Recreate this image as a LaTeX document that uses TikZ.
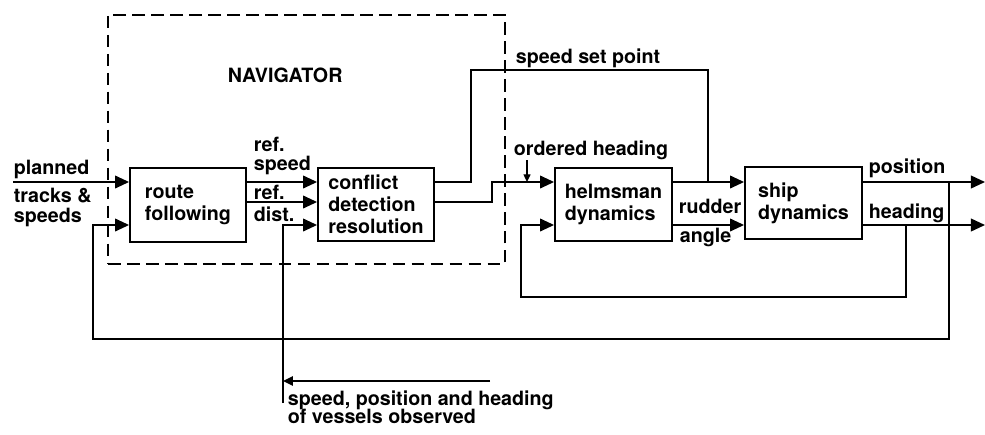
\documentclass[tikz,border=0pt]{standalone}
\usepackage{fontspec}
\setmainfont{TeX Gyre Heros}
\usetikzlibrary{arrows.meta, calc, positioning}

\begin{document}
\begin{tikzpicture}[x=0.025cm, y=-0.025cm, line width=1.3pt,
    block/.style={draw, rectangle, minimum width=2.9cm, minimum height=1.83cm, align=left, font=\bfseries\fontsize{14}{15.5}\selectfont},
    lbl/.style={inner sep=0pt, anchor=base west, align=left, font=\bfseries\fontsize{14}{15.5}\selectfont},
    arr/.style={-{Triangle[length=10pt,width=9pt]}}]
    \useasboundingbox (0,0) rectangle (985,434);

    % signal levels
    \coordinate (upper) at (0,182);
    \coordinate (middle) at (0,202);
    \coordinate (lower) at (0,225);

    % navigator
    \node[draw, dash pattern=on 9pt off 4.5pt, minimum width=9.925cm, minimum height=6.225cm] (nav) at (306.5,139.5) {};
    \node[lbl] (navlabel) at (227,82) {NAVIGATOR};

    % blocks
    \node[block] (route) at (188,205) {route\\following};
    \node[block] (conflict) at (376,204.5) {conflict\\detection\\resolution};
    \node[block, minimum width=2.925cm] (helm) at (613.5,204.5) {helmsman\\dynamics};
    \node[block, minimum width=2.925cm, minimum height=1.8cm] (ship) at (803.5,203) {ship\\dynamics};

    % free ends and corners
    \coordinate (plan) at (13,182);
    \coordinate (obs) at (283,403);
    \coordinate (obsin) at (490,381);
    \coordinate (spt) at (708,70);
    \coordinate (hdg) at (527,160);
    \coordinate (posout) at (985,182);
    \coordinate (hdgout) at (985,225);
    \coordinate (fbh) at (906,297);
    \coordinate (fbp) at (949,339);

    % connectors
    \draw[arr] (plan) -- (route.west |- upper);
    \draw[arr] (fbp |- upper) -- (fbp) -- ++(-856,0) |- (route.west |- lower);
    \draw[arr] (route.east |- upper) -- (conflict.west |- upper);
    \draw[arr] (route.east |- middle) -- (conflict.west |- middle);
    \draw[arr] (obs) |- (conflict.west |- lower);
    \draw[-{Triangle[length=7pt,width=6.5pt]}] (obsin) -- (obs |- obsin);
    \draw (conflict.east |- upper) -- ++(36,0) |- (spt) -- (spt |- upper);
    \draw[arr] (conflict.east |- middle) -- ++(57,0) |- (helm.west |- upper);
    \draw[-{Triangle[length=5.5pt,width=5pt]}, line width=1pt] (hdg) -- (hdg |- upper);
    \draw[arr] (helm.east |- upper) -- (ship.west |- upper);
    \draw[arr] (helm.east |- lower) -- (ship.west |- lower);
    \draw[arr] (ship.east |- upper) -- (posout);
    \draw[arr] (ship.east |- lower) -- (hdgout);
    \draw[arr] (fbh |- lower) -- (fbh) -- ++(-385,0) |- (helm.west |- lower);

    % labels (base = last line)
    \node[lbl] (planned) at (13,174) {planned};
    \node[lbl] (tracks) at (13,222) {tracks \&\\[-1.3pt]speeds};
    \node[lbl] (refspeed) at (253,170) {ref.\\[-2.5pt]speed};
    \node[lbl] (refdist) at (253,221) {ref.\\dist.};
    \node[lbl] (setpoint) at (515,63) {speed set point};
    \node[lbl] (ordered) at (513,155) {ordered heading};
    \node[lbl] (rudder) at (678,213) {rudder};
    \node[lbl] (angle) at (679,242) {angle};
    \node[lbl] (position) at (868,173) {position};
    \node[lbl] (heading) at (868,218) {heading};
    \node[lbl] (observed) at (287,423) {speed, position and heading\\[-2.7pt]of vessels observed};
\end{tikzpicture}
\end{document}
